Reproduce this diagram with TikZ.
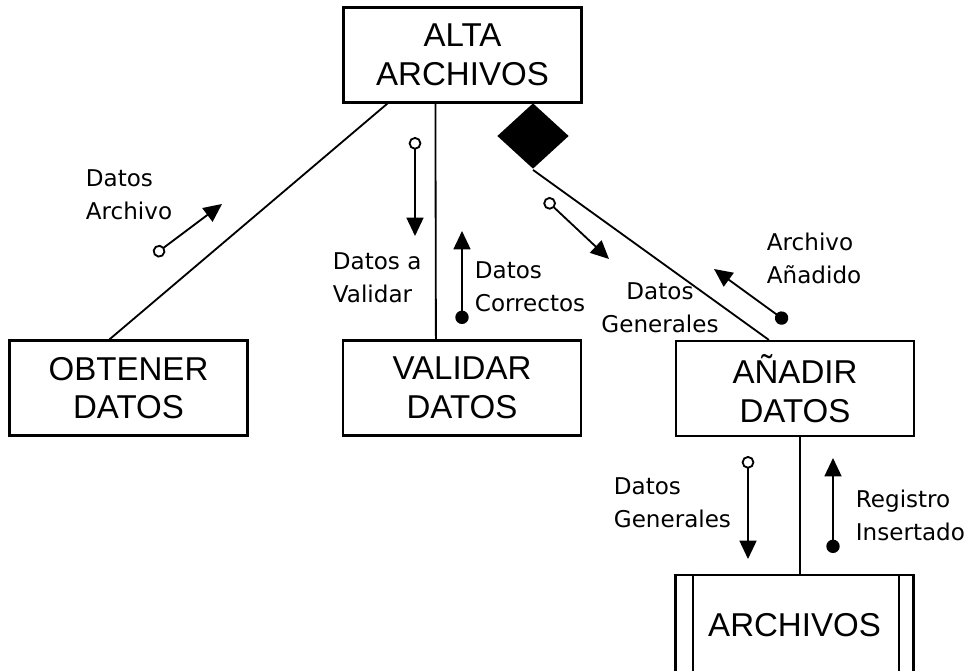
\documentclass[tikz,border=0pt]{standalone}
\usepackage{fontspec}
\setmainfont{Liberation Sans}
\newfontfamily\etiqfont{DejaVu Sans}
\usetikzlibrary{arrows.meta,calc,shapes.geometric}

\begin{document}
\begin{tikzpicture}[x=0.025cm, y=-0.025cm, line width=1.3pt,
    modulo/.style={draw, line width=1.5pt, minimum width=5.95cm, minimum height=2.375cm,
      inner sep=0pt, align=center, font=\fontsize{23.5}{27.5}\selectfont},
    etiq/.style={anchor=west, align=left, inner sep=0pt,
      font=\etiqfont\fontsize{16.4}{23.5}\selectfont},
    dato/.style={{Circle[open,length=9pt,width=9pt]}-{Triangle[length=13pt,width=12pt]}},
    control/.style={{Circle[length=9.5pt,width=9.5pt]}-{Triangle[length=13pt,width=12pt]}}]
    % ── Marco (965 x 670 px) ────────────────────────────────────────────────
    \clip (0,0) rectangle (965,670);
    % ── Módulos ─────────────────────────────────────────────────────────────
    \node[modulo] (alta) at (462.5,55) {ALTA\\ARCHIVOS};
    \node[modulo] (obtener) at (128.5,388) {OBTENER\\DATOS};
    \node[modulo] (validar) at (462,388) {VALIDAR\\DATOS};
    \node[modulo] (anadir) at (795,388.5) {AÑADIR\\DATOS};
    % Almacén: sale por abajo del marco
    \node[modulo, minimum height=2.5cm] (archivos) at (794.5,625) {ARCHIVOS};
    \draw[line width=1.5pt] ($(archivos.north west)+(19,0)$) -- ($(archivos.south west)+(19,0)$);
    \draw[line width=1.5pt] ($(archivos.north east)+(-16,0)$) -- ($(archivos.south east)+(-16,0)$);
    % Rombo de decisión
    \node[diamond, fill=black, inner sep=0pt, minimum width=1.8cm, minimum height=1.65cm]
      (rombo) at (533,136) {};
    % ── Conexiones ──────────────────────────────────────────────────────────
    \draw ($(alta.south west)+(45,0)$) -- ($(obtener.north west)+(101,0)$);
    \draw ($(alta.south west)+(93,0)$) -- ($(validar.north west)+(94,0)$);
    \draw (rombo.south) -- ($(anadir.north west)+(94,0)$);
    \draw ($(anadir.south)+(5,0)$) -- ($(archivos.north)+(5.5,0)$);
    % ── Flujos de datos ─────────────────────────────────────────────────────
    \coordinate (archivoIni) at (154,255);  \coordinate (archivoFin) at (222,204);
    \coordinate (validarIni) at (415,137);  \coordinate (validarFin) at (415,236);
    \coordinate (correctoIni) at (462,324); \coordinate (correctoFin) at (462,231);
    \coordinate (generalIni) at (545,199); \coordinate (generalFin) at (609,259);
    \coordinate (anadidoIni) at (787,322);  \coordinate (anadidoFin) at (714,269);
    \coordinate (generalIniB) at (748,456); \coordinate (generalFinB) at (748,559);
    \coordinate (registroIni) at (833,553); \coordinate (registroFin) at (833,458);
    \draw[dato] (archivoIni) -- (archivoFin);
    \draw[dato] (validarIni) -- (validarFin);
    \draw[control] (correctoIni) -- (correctoFin);
    \draw[dato] (generalIni) -- (generalFin);
    \draw[control] (anadidoIni) -- (anadidoFin);
    \draw[dato] (generalIniB) -- (generalFinB);
    \draw[control] (registroIni) -- (registroFin);
    % ── Etiquetas ───────────────────────────────────────────────────────────
    \node[etiq] (lArchivo) at (85,194.5) {Datos\\Archivo};
    \node[etiq] (lValidar) at (332,278) {Datos a\\Validar};
    \node[etiq] (lCorrectos) at (474,287) {Datos\\Correctos};
    \node[etiq, anchor=center, align=center] (lGenerales) at (660,308) {Datos\\Generales};
    \node[etiq] (lAnadido) at (766,258) {Archivo\\Añadido};
    \node[etiq] (lGeneralesB) at (613,503) {Datos\\Generales};
    \node[etiq] (lRegistro) at (855,515) {Registro\\Insertado};
  \end{tikzpicture}
\end{document}
